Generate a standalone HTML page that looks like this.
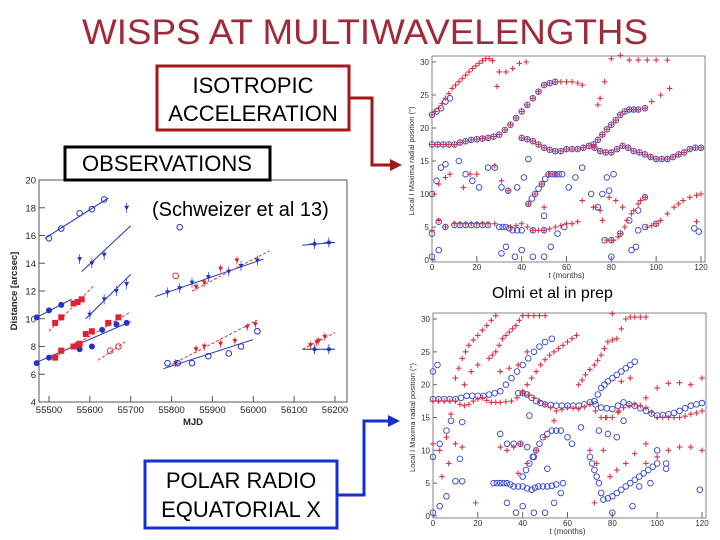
<!DOCTYPE html>
<html><head><meta charset="utf-8"><style>
html,body{margin:0;padding:0;background:#fff;}
svg{display:block;font-family:"Liberation Sans",sans-serif;}
</style></head><body>
<svg id="s" width="720" height="540" viewBox="0 0 720 540">
<text x="365" y="44" text-anchor="middle" font-size="35" fill="#9e2a3a" textLength="566" lengthAdjust="spacingAndGlyphs">WISPS AT MULTIWAVELENGTHS</text>
<g id="left"></g>
<g id="top"></g>
<g id="bot"></g>
<g>
<rect x="157" y="66" width="192" height="64" fill="#fff" stroke="#a01818" stroke-width="3"/>
<text x="253" y="93" text-anchor="middle" font-size="22">ISOTROPIC</text>
<text x="253" y="121" text-anchor="middle" font-size="22">ACCELERATION</text>
</g>
<g>
<polyline points="349,98 372,98 372,165 392,165" fill="none" stroke="#a01818" stroke-width="3"/>
<polygon points="402,165 390,159 390,171" fill="#a01818"/>
</g>
<g>
<rect x="65" y="147" width="205" height="33" fill="#fff" stroke="#000" stroke-width="3"/>
<text x="167" y="171" text-anchor="middle" font-size="22">OBSERVATIONS</text>
</g>
<text x="152" y="216" font-size="20">(Schweizer et al 13)</text>
<text x="492" y="298" font-size="16">Olmi et al in prep</text>
<g>
<rect x="145" y="461" width="192" height="67" fill="#fff" stroke="#1530d0" stroke-width="3"/>
<text x="241" y="488" text-anchor="middle" font-size="22">POLAR RADIO</text>
<text x="241" y="517" text-anchor="middle" font-size="22">EQUATORIAL X</text>
</g>
<g>
<polyline points="337,495 364,495 364,421 390,421" fill="none" stroke="#1530d0" stroke-width="3"/>
<polygon points="400,421 388,415 388,427" fill="#1530d0"/>
</g>
</svg>
<script>
const NS="http://www.w3.org/2000/svg";
function mk(p,tag,a){const e=document.createElementNS(NS,tag);for(const k in a)e.setAttribute(k,a[k]);p.appendChild(e);return e;}

/* ---------- LEFT CHART DATA ---------- */
const leftXTicks=[55500,55600,55700,55800,55900,56000,56100,56200];
const leftYTicks=[4,6,8,10,12,14,16,18,20];
const blueDotsX=[55470,55500,55530,55575,55605,55630,55665,55690,55470,55500,55530];
const blueDotsY=[6.8,7.2,7.7,7.8,8.0,9.2,9.6,9.7,10.1,10.6,11.0];
const redDotsX=[55515,55530,55560,55570,55575,55590,55605,55645,55670,55515,55530,55560,55570,55580];
const redDotsY=[7.2,7.7,8.0,8.1,8.2,8.9,9.1,9.7,10.1,9.7,10.1,11.1,11.2,11.4];
const blueTriX=[55600,55635,55665,55690,55575,55605,55635,55690,55790,55820,55850,55890,55940,55970,56010];
const blueTriY=[10.3,11.4,12.0,12.5,14.3,14.0,14.6,18.0,11.9,12.2,12.6,13.0,13.4,13.8,14.2];
const redTriX=[55860,55880,55920,55960,55810,55860,55880,55920,55955,55985,56005,56140,56155,56160,56175];
const redTriY=[12.3,12.6,13.6,14.2,6.8,7.8,8.0,8.2,8.4,9.4,9.6,8.1,8.3,8.4,8.7];
const blueOpenX=[55500,55530,55575,55605,55635,55820,55790,55815,55850,55890,55940,55970,56010];
const blueOpenY=[15.8,16.5,17.6,17.9,18.6,16.6,6.8,6.8,6.8,7.3,7.5,8.0,9.1];
const redOpenX=[55810,55650,55670];
const redOpenY=[13.1,7.7,8.0];
const blueStarX=[56150,56185,56150,56185];
const blueStarY=[15.4,15.5,7.8,7.8];
const blueFits=[[55465,6.8,55700,9.8],[55470,10.1,55555,11.4],[55490,15.8,55645,18.7],[55580,13.4,55700,16.7],[55590,10,55700,13.2],[55760,11.6,56025,14.3],[55780,6.4,56000,8.5],[56120,15.3,56200,15.5],[56120,7.8,56200,7.8]];
const redFits=[[55500,7.0,55700,10.5],[55500,9.1,55610,12.4],[55620,7.0,55690,8.4],[55850,12.0,56040,14.9],[55800,6.7,56010,9.9],[56120,7.8,56200,9.0]];

/* ---------- RIGHT CHART DATA ---------- */
const rTicksX=[0,20,40,60,80,100,120];
const rTicksY=[0,5,10,15,20,25,30];
const topRedT=[0,3,6,9,12,15,18,21,24,27,29,30,33,36,39,42, 0,5,10,15,20,25,30,35,40,45,50,55,60,65,67, 40,45,50,55,60,65,70,75,80,85,90,95,100,105,110,115,120, 72,76,80,84,88,92,95,98,102,106, 74,75,77,80,84,88,92,96,100,105, 0,3,6,10,15,20,25,28,35,40,45,50,55,60,65, 1,3,6,8, 14,17,20,28,31,34, 43,46,49,52,55, 50,67,72,75,78,81,84,87,90,93,95, 79,82,85, 96,100,105,110,115,120, 118];
const topRedR=[22,23,24.5,26,27,28,29,29.8,30.5,30.2,26.3,28.5,28.5,29,29.8,30, 17.5,17.5,17.5,18,18.3,18.5,19,20.5,22.5,24.5,26.5,27,27,26.8,26.5, 18.5,18,17,16.5,16.8,16.8,17.3,16.5,16.3,17.3,16.5,16,15.3,15.3,16,16.8,17, 17.5,19,20.5,22,22.8,22.8,23,24,25,26, 23.5,24.5,27,30.5,31,30.3,30.3,30.3,30.3,30.3, 4.5,6,5,5.5,5.5,5.5,5.5,5.5,5,5.5,4.5,4.5,5,5.5,5.8, 10,11.5,12.5,13, 11,13,13,14.3,12,10.5, 8.5,10,11.5,13,13, 8,9,8,7.5,3,3,4,6,7.5,9,9.5, 9.5,9,8, 5,5.5,7,8.5,9.5,10, 5.8];
const topRedT2=[1.5,4.5,7.5,10.5,13.5,16.5,19.5,22.5,25.5, 2.5,7.5,12.5,17.5,22.5,27.5,32.5,37.5,42.5,47.5,52.5,57.5,62.5, 42.5,47.5,52.5,57.5,62.5,67.5,72.5,77.5,82.5,87.5,92.5,97.5,102.5,107.5,112.5,117.5, 74,78,82,86,90, 12.5,17.5,22.5,37.5,42.5,47.5,52.5,57.5,62.5, 98,102,108,112,118, 73,76,80,83,86,89,92];
const topRedR2=[22.5,23.7,25.2,26.5,27.5,28.5,29.4,30.2,30.5, 17.5,17.5,17.8,18.2,18.4,18.7,19.7,21.5,23.5,25.5,26.8,27,27, 18.3,17.5,16.7,16.5,16.8,17,17,16.3,16.8,17,16.3,15.6,15.3,15.6,16.3,17, 18.2,19.8,21.2,22.5,22.8, 5.5,5.5,5.5,5.2,5,4.5,4.7,5.2,5.5, 5.2,6,8,9,9.8, 8,6,3,3.5,5,7,8.5];
const topBlueT=[0,2,4,6,8, 0,5,10,15,20,25,30,35,40,45,50,55, 40,45,50,55,60,65,70,75,80,85,90,95,100,105,110,115,120, 72,76,80,84,88,92,95, 0,3,6,10,15,20,25, 30,33,36,40, 45,50, 0,2,4,6, 12,15,18,21, 25,28,31,34,38,41,43, 43,46,49,52,55,58,61,64,67, 50, 0,3,31,33,37,40,45,50,53,56,59, 71,74,77,80,84,88,92,95, 76,78,81,79,80, 89,91,92,95,100, 117,119];
const topBlueR=[22,22.5,23,24,24.5, 17.5,17.5,17.5,18,18.3,18.5,19,20.5,22.5,24.5,26.5,27, 18.5,18,17,16.5,16.8,16.8,17.3,16.5,16.3,17.3,16.5,16,15.3,15.3,16,16.8,17, 17.5,19,20.5,22,22.8,22.8,23, 4,5.8,5,5.3,5.3,5.3,5.3, 5,5,4.5,4.5, 4.5,4.5, 10,12,14,14.5, 15,13,12,11, 14,14,11,10.5,11,12.5,15.3, 8.5,10,11.5,13,13,13,11,12.5,14, 6.7, 0.5,1.5,1,2,0.5,1.5,0.5,0.5,2,4,5, 10,8,3,3,4,6,7.5,9.5, 10,12.5,13,10.5,0.5, 1.5,2,4.5,5,5.5, 4.8,4.3];
const topBlueT2=[2.5,7.5,12.5,17.5,22.5,27.5,32.5,37.5,42.5,47.5,52.5, 42.5,47.5,52.5,57.5,62.5,67.5,72.5,77.5,82.5,87.5,92.5,97.5,102.5,107.5,112.5,117.5, 74,78,82,86,90, 44.5,47.5,50.5,53.5,56.5, 31.5,34.5,38, 12.5,17.5,22.5];
const topBlueR2=[17.5,17.5,17.8,18.2,18.4,18.7,19.7,21.5,23.5,25.5,26.8, 18.3,17.5,16.7,16.5,16.8,17,17,16.3,16.8,17,16.3,15.6,15.3,15.6,16.3,17, 18.2,19.8,21.2,22.5,22.8, 9.3,10.8,12.3,13,13, 5,4.8,4.5, 5.3,5.3,5.3];
const botRedT=[0,5,10,14,18,22,26,30,35,40,45,50,55,60,65,70,75,80,85,90,95,100,105,110,115,120, 10,13,16,20,24,28, 14,17,20, 25,28,31,34,37,40,45,50, 30,34,38,42, 40,44,48,52,56,60,64, 65,68,72,75,78,82,86,90,95, 80, 84,88, 77,83, 95,100,105,110, 115,120, 0,3,6,8, 10,13, 4,7, 19, 30,33,36,39, 38,42,46,50,54, 70,73,76, 72, 79,82,86,90,95, 95,100,105,110,115,120];
const botRedR=[17.5,17.5,17.5,16.8,17.5,18,17.3,17.3,17.5,18.7,18,17,16,16.5,16.3,17,15,15,16.5,17,16.5,15,15,15,15.5,16, 21,24,26,27.5,29,30.5, 20,22,23, 24,25,27,28,29,30.5,30.5,30.5, 22,22.5,23,25, 19,21,23,24.5,25.5,26.5,27.5, 20,21.5,23,24.5,26.5,27,30,30.3,30.3, 30.8, 20.5,21, 15,16, 18,19.5,20.2,20.3, 20,21, 11,10,12,15.5, 11,10.5, 6,8, 2, 10.5,10,10.5,11, 6.5,8,10,12,14.5, 10,8,10, 2, 6,7,8,9.5,11, 8,9,10,10.5,10.5,10];
const botRedT2=[2.5,7.5,12,16,20,24,28,32.5,37.5,42.5,47.5,52.5,57.5,62.5,67.5,72.5,77.5,82.5,87.5,92.5,97.5,102.5,107.5,112.5,117.5, 11.5,14.5,18,22,26, 26.5,29.5,32.5,35.5,38.5,42.5,47.5, 42,46,50,54,58,62, 66.5,70,73.5,76.5,80,84,88,92.5];
const botRedR2=[17.5,17.5,17,17,17.8,17.6,17.3,17.4,18,18.4,17.5,16.5,16.2,16.4,16.6,16,15,15.8,16.8,16.8,15.8,15,15,15.2,15.7, 22.5,25,26.8,28.3,29.8, 24.5,26,27.5,28.5,29.8,30.5,30.5, 20,22,23.8,25,26,27, 20.7,22.3,23.7,25.5,26.8,28.5,30.3,30.3];
const botBlueT=[0,5,10,15,20,25,30,35,40,45,50,53, 38,42,46,50,55,60,65,70,75,80,85,90,95,100,105,110,115,120, 72,75,78,82,86,90, 0,2, 0,3,6,8, 10,13, 12,13, 27,30,33,36,40,44,47,51,55,58, 30,33,36,39,42,45, 40,43,46,49,53,57,60,62,66, 43,51, 0,3,6,33,37,40,45,50,54,57, 70,72,74,76,80,84,88,92,96,100,104, 74,78,82,85, 80, 89, 92,97,100,104, 119];
const botBlueR=[17.8,17.8,17.8,18.3,18.3,18.5,19,21,23,25,26.5,27, 18.7,18.5,17.5,17,16.8,16.8,16.8,17.3,16.5,16.3,17.3,16.8,16,15.3,15.5,16,16.8,17.2, 17.5,19.5,20.5,21.5,22.5,23.5, 22,23, 9,11,13,14.5, 5.3,5.3, 8.7,14.3, 5,5,5,4.5,4.5,4,4.5,4.5,4.8,5, 12.5,11,11,11,10.5,9, 6,8,10,12,13,13,12,11,13.5, 15.3,7.2, 0.5,1.5,3,2,0.5,1.5,0.5,0.5,2,3.5, 9,7,5,2.5,3,4,5,6,7,8,7.2, 13,12.5,12,14.5, 0.5, 1.5, 4.5,5,10,8, 4];
const botBlueT2=[2.5,7.5,12.5,17.5,22.5,27.5,32.5,37.5,42.5,47.5, 40,44,48,52.5,57.5,62.5,67.5,72.5,77.5,82.5,87.5,92.5,97.5,102.5,107.5,112.5,117.5, 73.5,76.5,80,84,88, 28.5,31.5,34.5,38,42,45.5,49,53, 41.5,44.5,47.5,51,55, 71,73,75,78,82,86,90,94,98];
const botBlueR2=[17.8,17.8,18,18.3,18.3,18.7,20,22,24,25.8, 18.7,18,17.2,16.9,16.8,16.8,17,17,16.4,16.8,17,16.4,15.6,15.4,15.7,16.4,17, 18.5,20,21,22,23, 5,5,4.8,4.5,4.2,4.3,4.5,4.6, 7,9,11,12.5,13, 8,6,3.5,2.7,3.5,4.5,5.5,6.5,7.5];

/* ---------- LEFT CHART DRAW ---------- */
const L=document.getElementById('left');
const lx=v=>49+(v-55500)*(286/700);
const ly=v=>402-(v-4)*(222/16);
mk(L,'rect',{x:30,y:174,width:320,height:254,fill:'#fff'});
mk(L,'rect',{x:39,y:180,width:308,height:222,fill:'none',stroke:'#555','stroke-width':1});
leftXTicks.forEach(t=>{const x=lx(t);mk(L,'line',{x1:x,y1:402,x2:x,y2:396,stroke:'#555'});
 const tx=mk(L,'text',{x:x,y:413,'text-anchor':'middle','font-size':9.5,fill:'#222'});tx.textContent=t;
 });
leftYTicks.forEach(t=>{const y=ly(t);mk(L,'line',{x1:39,y1:y,x2:45,y2:y,stroke:'#555'});
 const tx=mk(L,'text',{x:36,y:y+3.5,'text-anchor':'end','font-size':9.5,fill:'#222'});tx.textContent=t;
 });
{const t=mk(L,'text',{x:193,y:425,'text-anchor':'middle','font-size':9.5,'font-weight':'bold',fill:'#222'});t.textContent='MJD';
}
{const t=mk(L,'text',{x:0,y:0,'text-anchor':'middle','font-size':9.5,'font-weight':'bold',fill:'#222',transform:'translate(17,291) rotate(-90)'});t.textContent='Distance [arcsec]';
}
blueFits.forEach(f=>{const l=mk(L,'line',{x1:lx(f[0]),y1:ly(f[1]),x2:lx(f[2]),y2:ly(f[3]),stroke:'#2233aa','stroke-width':1});
 });
redFits.forEach(f=>{const l=mk(L,'line',{x1:lx(f[0]),y1:ly(f[1]),x2:lx(f[2]),y2:ly(f[3]),stroke:'#dd3333','stroke-width':1,'stroke-dasharray':'3,2'});
 });
blueDotsX.forEach((v,i)=>{const c=mk(L,'circle',{cx:lx(v),cy:ly(blueDotsY[i]),r:3,fill:'#2233cc'});
 });
redDotsX.forEach((v,i)=>{const c=mk(L,'rect',{x:lx(v)-3,y:ly(redDotsY[i])-3,width:6,height:6,fill:'#dd2233'});
 });
blueTriX.forEach((v,i)=>{const x=lx(v),y=ly(blueTriY[i]);const c=mk(L,'polygon',{points:`${x-2.5},${y-2} ${x+2.5},${y-2} ${x},${y+2.5}`,fill:'#2233cc'});
 mk(L,'line',{x1:x,y1:y-5,x2:x,y2:y+5,stroke:'#2233cc','stroke-width':0.7});
 });
redTriX.forEach((v,i)=>{const x=lx(v),y=ly(redTriY[i]);const c=mk(L,'polygon',{points:`${x-2.5},${y-2} ${x+2.5},${y-2} ${x},${y+2.5}`,fill:'#dd2233'});
 mk(L,'line',{x1:x,y1:y-4,x2:x,y2:y+4,stroke:'#dd2233','stroke-width':0.7});
 });
blueOpenX.forEach((v,i)=>{const c=mk(L,'circle',{cx:lx(v),cy:ly(blueOpenY[i]),r:2.8,fill:'none',stroke:'#2233cc','stroke-width':1});
 });
redOpenX.forEach((v,i)=>{const c=mk(L,'circle',{cx:lx(v),cy:ly(redOpenY[i]),r:2.8,fill:'none',stroke:'#dd3344','stroke-width':1});
 });
blueStarX.forEach((v,i)=>{const x=lx(v),y=ly(blueStarY[i]);const c=mk(L,'circle',{cx:x,cy:y,r:2,fill:'#2233cc'});
 mk(L,'line',{x1:x-5,y1:y,x2:x+5,y2:y,stroke:'#2233cc','stroke-width':0.8});mk(L,'line',{x1:x,y1:y-5,x2:x,y2:y+5,stroke:'#2233cc','stroke-width':0.8});
 });

/* ---------- RIGHT CHARTS DRAW ---------- */
function drawR(G,x0,x1,y0,y1,redT,redR,blueT,blueR){
 const sx=v=>x0+(v/120)*(x1-x0), sy=v=>y0-(v/30)*(y0-y1);
 mk(G,'rect',{x:x0,y:y1-6,width:x1-x0+4,height:y0-y1+8,fill:'none',stroke:'#666','stroke-width':0.8});
 rTicksX.forEach(t=>{const x=sx(t);mk(G,'line',{x1:x,y1:y0+2,x2:x,y2:y0-4,stroke:'#666'});
  const tx=mk(G,'text',{x:x,y:y0+10,'text-anchor':'middle','font-size':8,fill:'#333'});tx.textContent=t;
  });
 rTicksY.forEach(t=>{const y=sy(t);mk(G,'line',{x1:x0,y1:y,x2:x0+4,y2:y,stroke:'#666'});
  const tx=mk(G,'text',{x:x0-3,y:y+3,'text-anchor':'end','font-size':8,fill:'#333'});tx.textContent=t;
  });
 const xt=mk(G,'text',{x:(x0+x1)/2,y:y0+18,'text-anchor':'middle','font-size':8,fill:'#333'});xt.textContent='t (months)';
 
 const yt=mk(G,'text',{x:0,y:0,'text-anchor':'middle','font-size':7.5,fill:'#333',transform:`translate(${x0-18},${(y0+y1)/2}) rotate(-90)`});yt.textContent='Local I Maxima radial position (°)';
 
 blueT.forEach((t,i)=>{const c=mk(G,'circle',{cx:sx(t),cy:sy(blueR[i]),r:2.8,fill:'none',stroke:'#3344cc','stroke-width':0.9});
  });
 redT.forEach((t,i)=>{const x=sx(t),y=sy(redR[i]);const c=mk(G,'path',{d:`M${x-2.8},${y}H${x+2.8}M${x},${y-2.8}V${y+2.8}`,stroke:'#dd3344','stroke-width':1.1});
  });
}
drawR(document.getElementById('top'),432,701,260,62,topRedT.concat(topRedT2),topRedR.concat(topRedR2),topBlueT.concat(topBlueT2),topBlueR.concat(topBlueR2));
drawR(document.getElementById('bot'),433,702,516,319,botRedT.concat(botRedT2),botRedR.concat(botRedR2),botBlueT.concat(botBlueT2),botBlueR.concat(botBlueR2));
</script>
</body></html>
